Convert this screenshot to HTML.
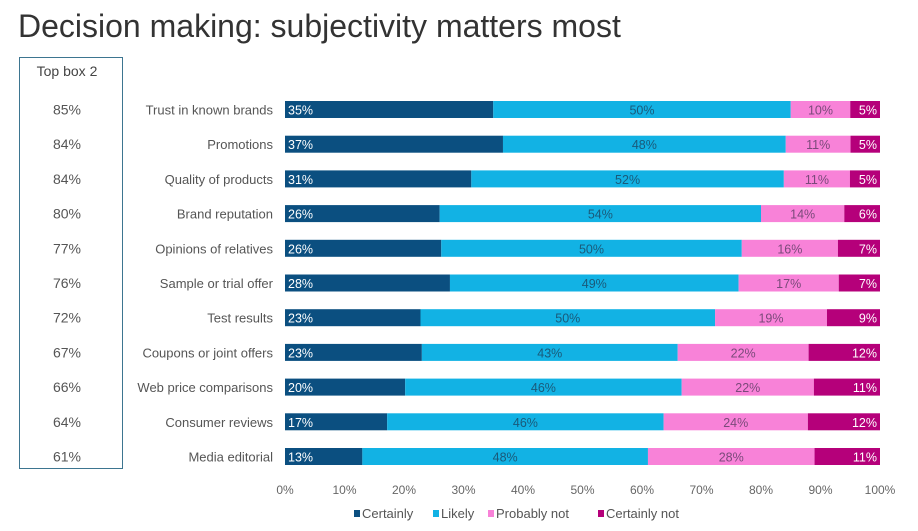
<!DOCTYPE html>
<html><head><meta charset="utf-8"><style>
body{margin:0;width:918px;height:531px;background:#fff;font-family:"Liberation Sans",sans-serif;overflow:hidden;position:relative}
#title{position:absolute;left:18px;top:8px;font-size:32px;color:#333;font-weight:300;letter-spacing:0px}
#box{position:absolute;left:19px;top:57px;width:104px;height:412px;border:1.5px solid #3d7590;box-sizing:border-box}
</style></head><body>
<div id="title">Decision making: subjectivity matters most</div>
<div id="box"></div>
<svg id="chart" width="918" height="531" style="position:absolute;left:0;top:0"></svg>
<script>
const categories=["Trust in known brands","Promotions","Quality of products","Brand reputation","Opinions of relatives","Sample or trial offer","Test results","Coupons or joint offers","Web price comparisons","Consumer reviews","Media editorial"];
const certainly=[35,37,31,26,26,28,23,23,20,17,13];
const likely=[50,48,52,54,50,49,50,43,46,46,48];
const probablyNot=[10,11,11,14,16,17,19,22,22,24,28];
const certainlyNot=[5,5,5,6,7,7,9,12,11,12,11];
const topBox=[85,84,84,80,77,76,72,67,66,64,61];
const xTicks=[0,10,20,30,40,50,60,70,80,90,100];
const seriesNames=["Certainly","Likely","Probably not","Certainly not"];
const colors=["#0b4f80","#12b2e4","#f882d8","#b5007a"];
const textCol=["#fff","#1a5a7a","#7a4a7a","#fff"];
const svg=document.getElementById('chart');
const NS="http://www.w3.org/2000/svg";
const x0=285,x1=880,rowY0=109.5,rowStep=34.7,barH=17;
const xs=v=>x0+(x1-x0)*v/100;
const ys=i=>rowY0+i*rowStep;
function mk(t,a,txt){const e=document.createElementNS(NS,t);for(const k in a)e.setAttribute(k,a[k]);if(txt!=null)e.textContent=txt;svg.appendChild(e);return e;}
const tb=mk('text',{x:67,y:76,'text-anchor':'middle','font-size':14,fill:'#444'},'Top box 2');


const series=[certainly,likely,probablyNot,certainlyNot];
categories.forEach((c,i)=>{
  const y=ys(i);
  const l=mk('text',{x:273,y:y+5,'text-anchor':'end','font-size':13,fill:'#555'},c);
  
  
  const t=mk('text',{x:67,y:y+5,'text-anchor':'middle','font-size':14,fill:'#555'},topBox[i]+'%');
  
  
  const tot=series.reduce((s,a)=>s+a[i],0);
  let cum=0;
  series.forEach((a,k)=>{
    const v=a[i]*100/tot;
    const r=mk('rect',{x:xs(cum),y:y-barH/2,width:xs(cum+v)-xs(cum),height:barH,fill:colors[k]});
    
    
    let tx,anchor;
    if(k==0){tx=xs(cum)+3;anchor='start';}
    else if(k==3){tx=xs(cum+v)-3;anchor='end';}
    else{tx=(xs(cum)+xs(cum+v))/2;anchor='middle';}
    const lb=mk('text',{x:tx,y:y+5,'text-anchor':anchor,'font-size':12.5,fill:textCol[k]},a[i]+'%');
    
    
    cum+=v;
  });
});
xTicks.forEach(v=>{
  const t=mk('text',{x:xs(v),y:494,'text-anchor':'middle','font-size':12,fill:'#666'},v+'%');
  
  
});
const legX=[354,433,488,598];
seriesNames.forEach((n,k)=>{
  const r=mk('rect',{x:legX[k],y:510,width:6,height:7,fill:colors[k]});
  
  
  const t=mk('text',{x:legX[k]+8,y:518,'font-size':13,fill:'#555'},n);
  
  
});
</script>
</body></html>
